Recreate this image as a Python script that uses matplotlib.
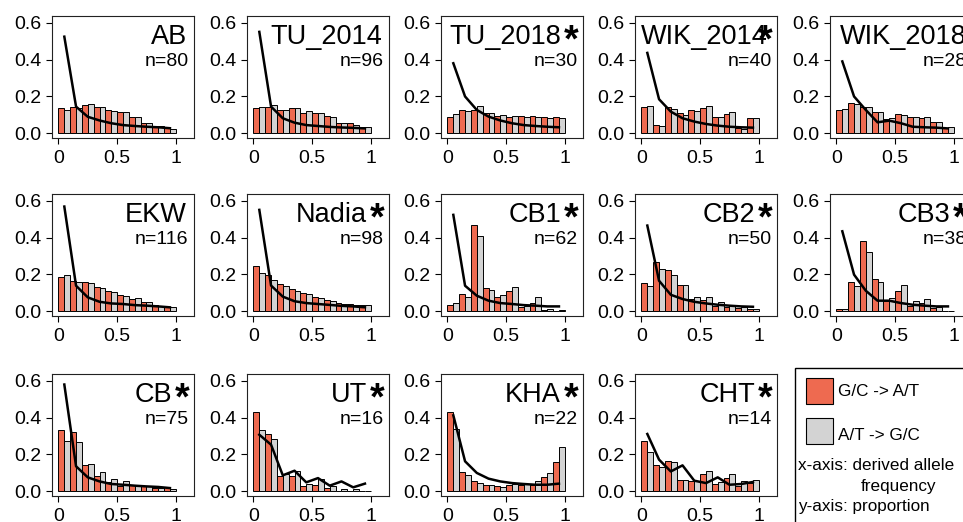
import matplotlib
matplotlib.use('Agg')
import matplotlib.pyplot as plt
from matplotlib.patches import Rectangle

plt.rcParams['font.family'] = ['Liberation Sans', 'DejaVu Sans']

# ---------------- data ----------------
bin_left = [0.0, 0.1, 0.2, 0.3, 0.4, 0.5, 0.6, 0.7, 0.8, 0.9]
line_x = [0.05, 0.15, 0.25, 0.35, 0.45, 0.55, 0.65, 0.75, 0.85, 0.95]

populations = ['AB', 'TU_2014', 'TU_2018', 'WIK_2014', 'WIK_2018',
               'EKW', 'Nadia', 'CB1', 'CB2', 'CB3',
               'CB', 'UT', 'KHA', 'CHT']
starred = [False, False, True, True, True,
           False, True, True, True, True,
           True, True, True, True]
n_values = [80, 96, 30, 40, 28, 116, 98, 62, 50, 38, 75, 16, 22, 14]

gc_to_at = [
    [0.136, 0.142, 0.155, 0.145, 0.127, 0.118, 0.087, 0.058, 0.040, 0.027],  # AB
    [0.136, 0.145, 0.127, 0.136, 0.113, 0.113, 0.096, 0.058, 0.058, 0.036],  # TU_2014
    [0.087, 0.124, 0.127, 0.113, 0.095, 0.091, 0.095, 0.096, 0.087, 0.091],  # TU_2018
    [0.142, 0.045, 0.142, 0.109, 0.124, 0.136, 0.091, 0.105, 0.027, 0.082],  # WIK_2014
    [0.124, 0.167, 0.145, 0.118, 0.076, 0.104, 0.091, 0.085, 0.064, 0.027],  # WIK_2018
    [0.188, 0.166, 0.157, 0.130, 0.108, 0.089, 0.067, 0.052, 0.034, 0.025],  # EKW
    [0.245, 0.195, 0.150, 0.120, 0.098, 0.076, 0.060, 0.044, 0.038, 0.033],  # Nadia
    [0.036, 0.094, 0.470, 0.127, 0.076, 0.108, 0.025, 0.045, 0.007, 0.004],  # CB1
    [0.154, 0.270, 0.224, 0.145, 0.067, 0.061, 0.031, 0.025, 0.018, 0.013],  # CB2
    [0.013, 0.161, 0.380, 0.175, 0.054, 0.112, 0.031, 0.043, 0.018, 0.004],  # CB3
    [0.331, 0.320, 0.141, 0.085, 0.049, 0.031, 0.036, 0.027, 0.018, 0.022],  # CB
    [0.429, 0.311, 0.085, 0.085, 0.027, 0.036, 0.018, 0.000, 0.000, 0.000],  # UT
    [0.430, 0.105, 0.054, 0.036, 0.027, 0.033, 0.033, 0.036, 0.076, 0.159],  # KHA
    [0.275, 0.145, 0.166, 0.063, 0.058, 0.094, 0.040, 0.072, 0.027, 0.045],  # CHT
]

at_to_gc = [
    [0.127, 0.136, 0.158, 0.145, 0.122, 0.118, 0.087, 0.058, 0.040, 0.022],  # AB
    [0.142, 0.153, 0.124, 0.136, 0.120, 0.113, 0.091, 0.058, 0.045, 0.033],  # TU_2014
    [0.104, 0.122, 0.149, 0.109, 0.102, 0.095, 0.091, 0.087, 0.082, 0.085],  # TU_2018
    [0.149, 0.040, 0.131, 0.100, 0.122, 0.149, 0.087, 0.116, 0.022, 0.085],  # WIK_2014
    [0.131, 0.158, 0.145, 0.118, 0.082, 0.100, 0.087, 0.087, 0.064, 0.036],  # WIK_2018
    [0.199, 0.157, 0.152, 0.125, 0.103, 0.085, 0.070, 0.049, 0.031, 0.025],  # EKW
    [0.210, 0.170, 0.137, 0.110, 0.093, 0.071, 0.055, 0.038, 0.033, 0.033],  # Nadia
    [0.043, 0.080, 0.407, 0.116, 0.089, 0.130, 0.031, 0.076, 0.013, 0.007],  # CB1
    [0.136, 0.230, 0.197, 0.145, 0.080, 0.080, 0.049, 0.036, 0.022, 0.013],  # CB2
    [0.013, 0.139, 0.324, 0.161, 0.072, 0.143, 0.058, 0.067, 0.025, 0.004],  # CB3
    [0.275, 0.268, 0.148, 0.105, 0.069, 0.054, 0.033, 0.027, 0.018, 0.013],  # CB
    [0.335, 0.284, 0.094, 0.108, 0.040, 0.067, 0.031, 0.014, 0.014, 0.004],  # UT
    [0.340, 0.090, 0.045, 0.033, 0.024, 0.040, 0.040, 0.054, 0.100, 0.239],  # KHA
    [0.212, 0.130, 0.159, 0.063, 0.054, 0.108, 0.049, 0.094, 0.054, 0.063],  # CHT
]

expected = [
    [0.524, 0.145, 0.090, 0.070, 0.055, 0.045, 0.040, 0.036, 0.033, 0.028],  # AB
    [0.550, 0.145, 0.082, 0.058, 0.045, 0.040, 0.035, 0.032, 0.030, 0.027],  # TU_2014
    [0.380, 0.200, 0.127, 0.091, 0.070, 0.055, 0.045, 0.040, 0.036, 0.033],  # TU_2018
    [0.436, 0.185, 0.118, 0.082, 0.064, 0.051, 0.042, 0.036, 0.033, 0.031],  # WIK_2014
    [0.390, 0.200, 0.127, 0.060, 0.069, 0.055, 0.036, 0.033, 0.031, 0.027],  # WIK_2018
    [0.568, 0.139, 0.076, 0.052, 0.043, 0.040, 0.034, 0.031, 0.027, 0.022],  # EKW
    [0.550, 0.140, 0.080, 0.055, 0.045, 0.040, 0.035, 0.030, 0.027, 0.022],  # Nadia
    [0.523, 0.139, 0.085, 0.058, 0.045, 0.040, 0.034, 0.031, 0.027, 0.027],  # CB1
    [0.465, 0.166, 0.090, 0.067, 0.052, 0.043, 0.036, 0.031, 0.027, 0.025],  # CB2
    [0.434, 0.199, 0.112, 0.058, 0.058, 0.045, 0.036, 0.031, 0.027, 0.027],  # CB3
    [0.579, 0.136, 0.076, 0.054, 0.040, 0.036, 0.031, 0.027, 0.024, 0.018],  # CB
    [0.307, 0.253, 0.087, 0.112, 0.049, 0.072, 0.031, 0.054, 0.022, 0.042],  # UT
    [0.412, 0.163, 0.100, 0.069, 0.054, 0.045, 0.040, 0.036, 0.036, 0.042],  # KHA
    [0.311, 0.172, 0.108, 0.141, 0.058, 0.045, 0.076, 0.036, 0.040, 0.051],  # CHT
]

legend_labels = ['G/C -> A/T', 'A/T -> G/C']
y_ticks = [0.0, 0.2, 0.4, 0.6]
y_tick_labels = ['0.0', '0.2', '0.4', '0.6']
x_ticks = [0, 0.5, 1]
x_tick_labels = ['0', '0.5', '1']

# ---------------- style ----------------
RED = '#EE6A50'
GREY = '#D3D3D3'
FW, FH = 963, 522
col_left = [52, 247, 441, 635, 830]
row_top = [16, 194, 374]
BW, BH = 142, 122
title_right_px = {'WIK_2014': 9, 'WIK_2018': 5}
star_right_px = {'WIK_2018': -12}

fig = plt.figure(figsize=(FW / 100, FH / 100), dpi=100)

for i, name in enumerate(populations):
    r, c = divmod(i, 5)
    left = col_left[c]
    top = row_top[r]
    ax = fig.add_axes([left / FW, 1 - (top + BH) / FH, BW / FW, BH / FH])
    ax.bar(bin_left, gc_to_at[i], width=0.05, align='edge', color=RED,
           edgecolor='black', linewidth=0.7, zorder=2)
    ax.bar([b + 0.05 for b in bin_left], at_to_gc[i], width=0.05, align='edge',
           color=GREY, edgecolor='black', linewidth=0.7, zorder=2)
    ax.plot(line_x, expected[i], color='black', linewidth=1.8, zorder=3)
    ax.set_xlim(-0.055, 1.155)
    ax.set_ylim(-0.025, 0.636)
    ax.set_yticks(y_ticks)
    ax.set_yticklabels(y_tick_labels)
    ax.set_xticks(x_ticks)
    ax.set_xticklabels(x_tick_labels)
    ax.tick_params(axis='both', direction='out', length=4, width=0.8,
                   labelsize=14, colors='black')
    ax.tick_params(axis='y', pad=3.5)
    ax.tick_params(axis='x', pad=4.5)
    for s in ax.spines.values():
        s.set_linewidth(0.8)
        s.set_color('#222222')

    tb = 1 - 27.5 / BH
    if starred[i]:
        rp = title_right_px.get(name, 22)
        sp = star_right_px.get(name, 5)
        ax.text(1 - rp / BW, tb, name, transform=ax.transAxes,
                ha='right', va='baseline', fontsize=19.5, clip_on=False)
        ax.text(1 - sp / BW, 1 - 7 / BH, '*', transform=ax.transAxes,
                ha='right', va='top', fontsize=27, fontweight='bold',
                clip_on=False)
    else:
        ax.text(1 - 7 / BW, tb, name, transform=ax.transAxes,
                ha='right', va='baseline', fontsize=19.5)
    ax.text(1 - 5.5 / BW, 1 - 49.5 / BH, 'n=%d' % n_values[i],
            transform=ax.transAxes, ha='right', va='baseline', fontsize=14)

# ---------------- legend panel ----------------
def fx(px):
    return px / FW

def fy(py):
    return 1 - py / FH

fig.add_artist(Rectangle((fx(795), fy(560)), fx(1000) - fx(795), fy(368) - fy(560),
                         transform=fig.transFigure, fill=False,
                         edgecolor='black', linewidth=1.0))
fig.add_artist(Rectangle((fx(806), fy(404)), 27 / FW, 26 / FH,
                         transform=fig.transFigure, facecolor=RED,
                         edgecolor='black', linewidth=0.8))
fig.add_artist(Rectangle((fx(806), fy(444)), 27 / FW, 26 / FH,
                         transform=fig.transFigure, facecolor=GREY,
                         edgecolor='black', linewidth=0.8))
fig.text(fx(838), fy(395.5), legend_labels[0], ha='left', va='baseline', fontsize=12.3)
fig.text(fx(838), fy(440), legend_labels[1], ha='left', va='baseline', fontsize=12.3)
fig.text(fx(798), fy(470.5), 'x-axis: derived allele', ha='left', va='baseline', fontsize=12.3)
fig.text(fx(899), fy(491), 'frequency', ha='center', va='baseline', fontsize=12.3)
fig.text(fx(798), fy(511), 'y-axis: proportion', ha='left', va='baseline', fontsize=12.3)

fig.savefig('out.png', dpi=100)
